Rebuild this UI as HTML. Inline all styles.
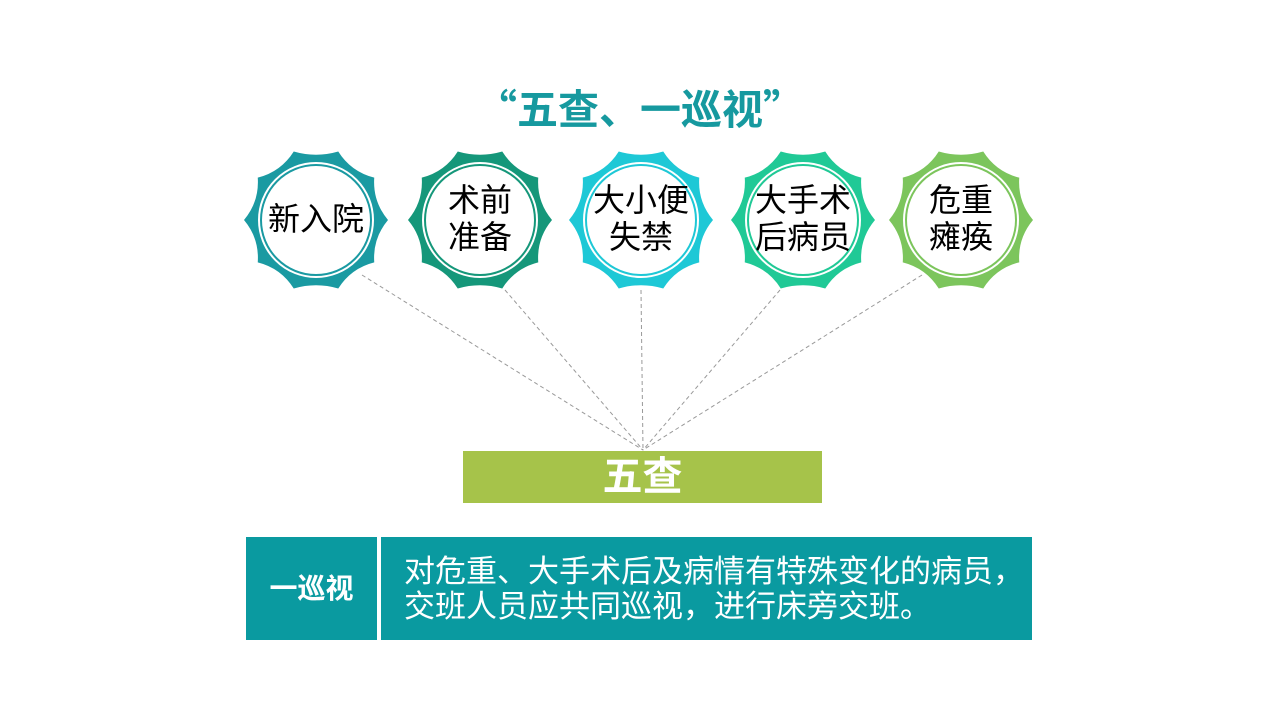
<!DOCTYPE html>
<html><head><meta charset="utf-8"><style>
body{margin:0;width:1280px;height:720px;background:#fff;overflow:hidden;position:relative;font-family:"Liberation Sans","Noto Sans CJK SC",sans-serif}
.t{position:absolute;left:0;width:1280px;top:76px;text-align:center;font-size:41px;font-weight:bold;color:#16999f;font-family:"Noto Sans CJK SC",sans-serif}
.b{position:absolute;text-align:center;color:#000;font-size:32px;line-height:37px;width:140px}
.box{position:absolute;color:#fff}
</style></head><body>
<div class="t">“五查、一巡视”</div>
<svg width="1280" height="720" style="position:absolute;left:0;top:0">
<g stroke="#999" stroke-width="1" stroke-dasharray="4,3">
<line x1="362" y1="275" x2="643" y2="450"/><line x1="505" y1="290" x2="643" y2="450"/><line x1="641" y1="290" x2="643" y2="450"/><line x1="780" y1="290" x2="643" y2="450"/><line x1="922" y1="275" x2="643" y2="450"/>
</g>
<defs><path id="st" d="M72.00,0.00 Q56.59,18.39 58.25,42.32 Q35.02,48.20 22.25,68.48 Q0.00,62.00 -22.25,68.48 Q-35.02,48.20 -58.25,42.32 Q-56.59,18.39 -72.00,0.00 Q-56.59,-18.39 -58.25,-42.32 Q-35.02,-48.20 -22.25,-68.48 Q0.00,-62.00 22.25,-68.48 Q35.02,-48.20 58.25,-42.32 Q56.59,-18.39 72.00,0.00 Z"/></defs>
<g transform="translate(316,220)"><use href="#st" fill="#1a9aa2"/><circle r="57" fill="none" stroke="#fff" stroke-width="2"/><circle r="54" fill="#fff"/></g>
<g transform="translate(480,220)"><use href="#st" fill="#15977a"/><circle r="57" fill="none" stroke="#fff" stroke-width="2"/><circle r="54" fill="#fff"/></g>
<g transform="translate(641,220)"><use href="#st" fill="#1ec8d6"/><circle r="57" fill="none" stroke="#fff" stroke-width="2"/><circle r="54" fill="#fff"/></g>
<g transform="translate(803,220)"><use href="#st" fill="#20c996"/><circle r="57" fill="none" stroke="#fff" stroke-width="2"/><circle r="54" fill="#fff"/></g>
<g transform="translate(961,220)"><use href="#st" fill="#7cc55c"/><circle r="57" fill="none" stroke="#fff" stroke-width="2"/><circle r="54" fill="#fff"/></g>
</svg>
<div class="b" style="left:246px;top:201px">新入院</div>
<div class="b" style="left:410px;top:182px">术前<br>准备</div>
<div class="b" style="left:571px;top:182px">大小便<br>失禁</div>
<div class="b" style="left:733px;top:182px">大手术<br>后病员</div>
<div class="b" style="left:891px;top:182px">危重<br>瘫痪</div>
<div class="box" style="left:463px;top:451px;width:359px;height:52px;background:#a6c34a;font-size:40px;font-weight:bold;line-height:52px;text-align:center">五查</div>
<div class="box" style="left:246px;top:537px;width:131px;height:103px;background:#0a9aa0;font-size:28px;font-weight:bold;line-height:103px;text-align:center">一巡视</div>
<div class="box" style="left:381px;top:537px;width:651px;height:103px;background:#0a9aa0;font-size:31px;line-height:35px;padding:17px 0 0 23px;box-sizing:border-box;white-space:nowrap">对危重、大手术后及病情有特殊变化的病员，<br>交班人员应共同巡视，进行床旁交班。</div>
</body></html>
